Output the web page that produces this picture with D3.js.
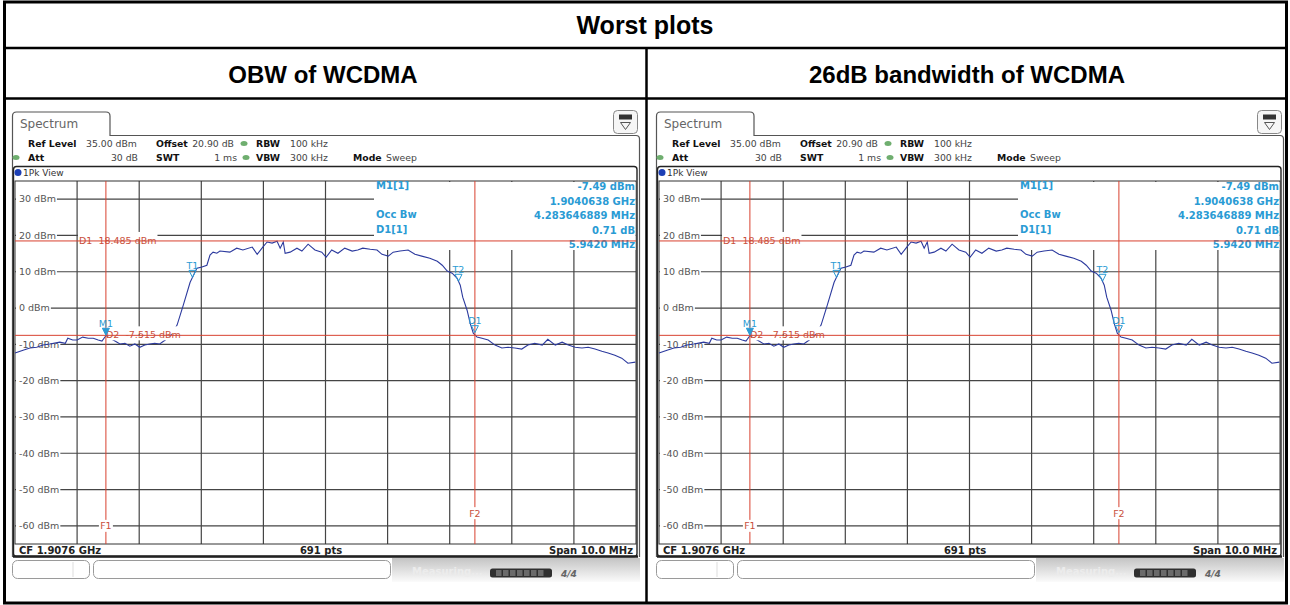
<!DOCTYPE html>
<meta charset="utf-8">
<head>
  <title>Worst plots</title>
</head>

<style>
body {
  margin: 0;
  background: #fff;
}
svg { display: block; }

.ttl {
  font-family: Arial, "Liberation Sans", sans-serif;
  font-weight: bold;
  font-size: 24px;
  fill: #000;
  text-anchor: middle;
}

.ins {
  font-family: "DejaVu Sans", Verdana, sans-serif;
}
</style>

<body>
  <svg id="chart" width="1290" height="605"></svg>

<script src="https://cdnjs.cloudflare.com/ajax/libs/d3/7.8.5/d3.min.js"></script>
<script>
// titles of the table
var tableTitle = "Worst plots";
var panelTitles = ["OBW of WCDMA", "26dB bandwidth of WCDMA"];

// analyser settings
var centerMHz = 1907.6,
    spanMHz = 10,
    refLevel = 35,
    levelRange = 100;

var levelTicks = [30, 20, 10, 0, -10, -20, -30, -40, -50, -60];

// trace (frequency MHz, level dBm)
var traceMHz = [
  1902.60,1902.73,1902.84,1902.95,1903.05,1903.16,1903.32,1903.41,1903.45,1903.53,
  1903.60,1903.69,1903.78,1903.86,1903.94,1904.00,1904.07,1904.13,1904.21,1904.29,
  1904.37,1904.45,1904.53,1904.61,1904.69,1904.77,1904.85,1904.93,1905.02,1905.10,
  1905.21,1905.31,1905.42,1905.53,1905.61,1905.69,1905.74,1905.79,1905.85,1905.90,
  1906.06,1906.17,1906.27,1906.42,1906.50,1906.59,1906.66,1906.74,1906.82,1906.87,
  1906.92,1906.95,1907.03,1907.14,1907.22,1907.32,1907.43,1907.54,1907.61,1907.70,
  1907.80,1907.91,1908.03,1908.12,1908.20,1908.32,1908.43,1908.51,1908.61,1908.69,
  1908.80,1908.93,1909.04,1909.15,1909.28,1909.40,1909.48,1909.56,1909.64,1909.72,
  1909.77,1909.81,1909.88,1909.93,1909.98,1910.04,1910.12,1910.22,1910.33,1910.44,
  1910.54,1910.65,1910.76,1910.86,1910.97,1911.09,1911.18,1911.30,1911.41,1911.51,
  1911.62,1911.73,1911.83,1911.94,1912.05,1912.15,1912.26,1912.37,1912.47,1912.59
];
var traceDbm = [
  -12.4,-11.6,-11.0,-10.8,-10.2,-9.9,-9.4,-9.7,-8.3,-8.8,
  -8.8,-8.0,-8.3,-8.3,-8.8,-9.1,-7.5,-8.3,-9.1,-9.9,
  -9.7,-10.5,-9.9,-10.8,-10.2,-9.9,-9.7,-9.9,-8.8,-7.7,
  -4.7,0.8,7.1,11.0,11.3,11.8,14.6,15.4,15.1,15.7,
  15.4,16.5,16.0,16.8,14.8,16.8,18.2,17.9,18.4,16.5,
  18.2,15.1,15.4,16.5,15.7,17.6,16.0,15.4,14.0,16.0,
  15.1,16.5,15.7,16.0,16.5,16.2,16.0,14.8,14.3,15.4,
  15.7,16.0,14.8,14.3,13.7,12.9,11.8,10.2,9.6,8.2,
  6.3,3.0,-0.6,-4.2,-6.9,-8.0,-8.3,-8.8,-10.2,-11.0,
  -10.8,-11.0,-11.3,-10.2,-9.7,-10.2,-8.6,-10.2,-9.4,-10.2,
  -10.8,-11.0,-10.8,-11.3,-11.9,-12.4,-13.0,-13.8,-15.2,-14.9
];

// markers and display lines
var m1MHz = 1904.0638, m1Dbm = -7.49;
var deltaMHz = 5.942, deltaDb = 0.71;
var occBwMHz = 4.283646889;
var lineD1 = 18.485, lineD2 = -7.515;

var markerLabels = ["M1[1]", "", "Occ Bw", "D1[1]", ""];
var markerValues = ["-7.49 dBm", "1.9040638 GHz", "4.283646889 MHz", "0.71 dB", "5.9420 MHz"];

var trace = traceMHz.map(function(f, i) { return {f: f, l: traceDbm[i]}; });

var svg = d3.select("#chart");
svg.append("rect").attr("width", 1290).attr("height", 605).attr("fill", "#fff");

var grad = svg.append("defs").append("linearGradient")
    .attr("id", "bar").attr("x1", 0).attr("y1", 0).attr("x2", 0).attr("y2", 1);
grad.append("stop").attr("offset", "0%").attr("stop-color", "#c4c4c4");
grad.append("stop").attr("offset", "100%").attr("stop-color", "#fbfbfb");

var red = "#d8412f",
    redText = "#c9503c",
    cyan = "#2a9bd4",
    gridColor = "#454545";

function drawSpectrum(ox) {
  var g = svg.append("g").attr("transform", "translate(" + ox + ",0)");

  var x = d3.scaleLinear()
      .domain([centerMHz - spanMHz / 2, centerMHz + spanMHz / 2])
      .range([15, 636]);
  var y = d3.scaleLinear()
      .domain([refLevel, refLevel - levelRange])
      .range([181, 544]);
  var onTrace = d3.scaleLinear().domain(traceMHz).range(traceDbm);

  // window frame with the tab
  g.append("path")
    .attr("d", "M12.5,557V116Q12.5,112 16.5,112H106Q110,112 110,116V135.5H636Q639.5,135.5 639.5,139V557")
    .attr("fill", "none").attr("stroke", "#555").attr("stroke-width", 1.2);
  g.append("text").attr("class", "ins")
    .attr("x", 20).attr("y", 128).attr("font-size", 12).attr("fill", "#666")
    .text("Spectrum");

  // settings icon
  g.append("rect").attr("x", 613.5).attr("y", 110.5).attr("width", 24).attr("height", 23).attr("rx", 4)
    .attr("fill", "#f6f6f6").attr("stroke", "#888");
  g.append("rect").attr("x", 619).attr("y", 114.5).attr("width", 13).attr("height", 5).attr("fill", "#333");
  g.append("path").attr("d", "M620.5,122.5H630.5L625.5,129.5Z").attr("fill", "none").attr("stroke", "#555");

  // header text
  var hdr = g.append("g").attr("class", "ins").attr("font-size", 9.3).attr("fill", "#222");
  function ht(tx, ty, s, bold, anchor) {
    hdr.append("text").attr("x", tx).attr("y", ty)
      .attr("font-weight", bold ? "bold" : "normal")
      .attr("text-anchor", anchor || "start")
      .attr("fill", bold ? "#111" : "#444")
      .text(s);
  }
  ht(28, 147, "Ref Level", true);
  ht(86, 147, "35.00 dBm");
  ht(156, 147, "Offset", true);
  ht(234, 147, "20.90 dB", false, "end");
  ht(256, 147, "RBW", true);
  ht(290, 147, "100 kHz");
  ht(28, 161, "Att", true);
  ht(138, 161, "30 dB", false, "end");
  ht(156, 161, "SWT", true);
  ht(237, 161, "1 ms", false, "end");
  ht(256, 161, "VBW", true);
  ht(290, 161, "300 kHz");
  ht(353, 161, "Mode", true);
  ht(386, 161, "Sweep");
  [[244, 143.5], [16, 157.5], [246, 157.5]].forEach(function(p) {
    g.append("ellipse").attr("cx", p[0]).attr("cy", p[1]).attr("rx", 3.5).attr("ry", 2.5).attr("fill", "#6fae6f");
  });

  // view box
  g.append("rect").attr("x", 13.5).attr("y", 166.5).attr("width", 623.5).attr("height", 390).attr("rx", 3)
    .attr("fill", "#fff").attr("stroke", "#222").attr("stroke-width", 1.4);
  g.append("line").attr("x1", 13).attr("x2", 638).attr("y1", 556.5).attr("y2", 556.5)
    .attr("stroke", "#222").attr("stroke-width", 2.5);
  g.append("circle").attr("cx", 18).attr("cy", 172.5).attr("r", 3.5).attr("fill", "#1d3fb5");
  g.append("text").attr("class", "ins").attr("x", 23).attr("y", 176).attr("font-size", 9).attr("fill", "#333")
    .text("1Pk View");

  // grid
  var grid = g.append("g").attr("stroke", gridColor).attr("stroke-width", 1.2);
  grid.selectAll("line.h").data(levelTicks).enter().append("line")
    .attr("x1", x.range()[0]).attr("x2", x.range()[1])
    .attr("y1", function(d) { return y(d); }).attr("y2", function(d) { return y(d); });
  grid.selectAll("line.v").data(d3.range(1, 10)).enter().append("line")
    .attr("x1", function(d) { return x(x.domain()[0] + d * spanMHz / 10); })
    .attr("x2", function(d) { return x(x.domain()[0] + d * spanMHz / 10); })
    .attr("y1", y.range()[0]).attr("y2", y.range()[1]);
  g.append("rect").attr("x", 15).attr("y", 181).attr("width", 621).attr("height", 363)
    .attr("fill", "none").attr("stroke", "#333").attr("stroke-width", 1);

  // level labels
  var yl = g.selectAll("g.yl").data(levelTicks).enter().append("g")
    .attr("transform", function(d) { return "translate(0," + y(d) + ")"; });
  yl.append("text").attr("class", "ins").attr("x", 19).attr("y", 3.3).attr("font-size", 9.5).attr("fill", "#555")
    .text(function(d) { return d + " dBm"; })
    .each(function() {
      var w = this.getComputedTextLength();
      d3.select(this.parentNode).insert("rect", "text")
        .attr("x", 16).attr("y", -5).attr("width", w + 4).attr("height", 10).attr("fill", "#fff");
    });

  // marker table
  g.append("rect").attr("x", 374).attr("y", 182).attr("width", 261.5).attr("height", 68).attr("fill", "#fff");
  var mt = g.append("g").attr("class", "ins").attr("font-size", 10).attr("font-weight", "bold").attr("fill", cyan);
  mt.selectAll("text.l").data(markerLabels).enter().append("text")
    .attr("x", 376).attr("y", function(d, i) { return 189 + i * 14.5; }).text(function(d) { return d; });
  mt.selectAll("text.r").data(markerValues).enter().append("text")
    .attr("x", 635).attr("text-anchor", "end")
    .attr("y", function(d, i) { return 190 + i * 14.5; }).text(function(d) { return d; });

  // trace
  g.append("path").datum(trace)
    .attr("fill", "none").attr("stroke", "#2c3a9e").attr("stroke-width", 1.1)
    .attr("d", d3.line().x(function(d) { return x(d.f); }).y(function(d) { return y(d.l); }));

  // display lines
  function hLabel(txt, tx, level) {
    var t = g.append("text").attr("class", "ins").attr("x", tx).attr("y", y(level) + 3)
      .attr("font-size", 9.5).attr("fill", redText).attr("xml:space", "preserve").text(txt);
    var w = t.node().getComputedTextLength();
    g.insert("rect", function() { return t.node(); })
      .attr("x", tx - 1).attr("y", y(level) - 9).attr("width", w + 2).attr("height", 7.5).attr("fill", "#fff");
    return t;
  }
  var d1Text = hLabel("D1  18.485 dBm", 79, lineD1);
  var d2Text = hLabel("D2  -7.515 dBm", 106, lineD2);
  [lineD1, lineD2].forEach(function(l) {
    g.insert("line", function() { return d1Text.node(); })
      .attr("x1", 15).attr("x2", 636).attr("y1", y(l)).attr("y2", y(l))
      .attr("stroke", red).attr("stroke-width", 1);
  });
  g.append("rect").attr("x", 108).attr("y", y(lineD2) + 1).attr("width", 65).attr("height", 4).attr("fill", "#fff");
  d2Text.raise();

  var f1 = m1MHz, f2 = m1MHz + deltaMHz;
  [[f1, "F1", -60], [f2, "F2", -56.5]].forEach(function(fl) {
    g.append("line").attr("x1", x(fl[0])).attr("x2", x(fl[0])).attr("y1", 181).attr("y2", 544)
      .attr("stroke", red).attr("stroke-width", 1);
    g.append("rect").attr("x", x(fl[0]) - 7).attr("y", y(fl[2]) - 6).attr("width", 14).attr("height", 12).attr("fill", "#fff");
    g.append("text").attr("class", "ins").attr("x", x(fl[0])).attr("y", y(fl[2]) + 3.5)
      .attr("text-anchor", "middle").attr("font-size", 9.5).attr("fill", redText).text(fl[1]);
  });

  // markers
  var marks = [
    {f: m1MHz, l: m1Dbm, name: "M1", filled: true},
    {f: centerMHz - occBwMHz / 2, l: onTrace(centerMHz - occBwMHz / 2), name: "T1", filled: false},
    {f: centerMHz + occBwMHz / 2, l: onTrace(centerMHz + occBwMHz / 2), name: "T2", filled: false},
    {f: m1MHz + deltaMHz, l: m1Dbm + deltaDb, name: "D1", filled: false}
  ];
  marks.forEach(function(m) {
    var mx = x(m.f), my = y(m.l);
    g.append("path")
      .attr("d", "M" + (mx - 3.5) + "," + (my - 7) + "L" + (mx + 3.5) + "," + (my - 7) + "L" + mx + "," + my + "Z")
      .attr("fill", m.filled ? cyan : "none").attr("stroke", cyan).attr("stroke-width", 1);
    g.append("text").attr("class", "ins").attr("x", mx).attr("y", my - 8.5)
      .attr("text-anchor", "middle").attr("font-size", 9.5).attr("fill", cyan).text(m.name);
  });

  // bottom line of the view
  var ft = g.append("g").attr("class", "ins").attr("font-size", 10).attr("font-weight", "bold").attr("fill", "#222");
  ft.append("text").attr("x", 19).attr("y", 553.5).text("CF 1.9076 GHz");
  ft.append("text").attr("x", 321).attr("y", 553.5).attr("text-anchor", "middle").text("691 pts");
  ft.append("text").attr("x", 633).attr("y", 553.5).attr("text-anchor", "end").text("Span 10.0 MHz");

  // status bar
  g.append("rect").attr("x", 392).attr("y", 558).attr("width", 248).attr("height", 24).attr("fill", "url(#bar)");
  g.append("rect").attr("x", 12.5).attr("y", 560.5).attr("width", 77).attr("height", 18).attr("rx", 5)
    .attr("fill", "#fff").attr("stroke", "#9a9a9a");
  g.append("line").attr("x1", 73).attr("x2", 73).attr("y1", 562).attr("y2", 577).attr("stroke", "#ddd");
  g.append("rect").attr("x", 93.5).attr("y", 560.5).attr("width", 297).attr("height", 18).attr("rx", 5)
    .attr("fill", "#fff").attr("stroke", "#9a9a9a");
  g.append("text").attr("class", "ins").attr("x", 412).attr("y", 575).attr("font-size", 10).attr("font-weight", "bold")
    .attr("fill", "#ececec").text("Measuring...");
  g.append("rect").attr("x", 490).attr("y", 568.5).attr("width", 62).attr("height", 9).attr("rx", 2.5).attr("fill", "#2f2f2f");
  g.selectAll("rect.seg").data(d3.range(7)).enter().append("rect")
    .attr("x", function(d) { return 496 + d * 7; }).attr("y", 570).attr("width", 5.5).attr("height", 6).attr("fill", "#6a6a6a");
  g.append("text").attr("class", "ins").attr("x", 561).attr("y", 577).attr("font-size", 9).attr("font-style", "italic")
    .attr("font-weight", "bold").attr("fill", "#666").text("4/4");
}

// the table
svg.append("text").attr("class", "ttl").attr("x", 645).attr("y", 34).style("font-size", "25px").text(tableTitle);
svg.selectAll("text.pt").data(panelTitles).enter().append("text")
  .attr("class", "ttl")
  .attr("x", function(d, i) { return 323 + i * 644; })
  .attr("y", 83)
  .text(function(d) { return d; });

drawSpectrum(0);
drawSpectrum(644);

var tbl = svg.append("g").attr("stroke", "#000").attr("fill", "none");
tbl.append("rect").attr("x", 4.5).attr("y", 2).attr("width", 1282).attr("height", 601).attr("stroke-width", 3);
tbl.append("line").attr("x1", 3).attr("x2", 1287).attr("y1", 48).attr("y2", 48).attr("stroke-width", 2.5);
tbl.append("line").attr("x1", 3).attr("x2", 1287).attr("y1", 98.5).attr("y2", 98.5).attr("stroke-width", 2.5);
tbl.append("line").attr("x1", 646.5).attr("x2", 646.5).attr("y1", 48).attr("y2", 604).attr("stroke-width", 2.5);
</script>
</body>
</html>
